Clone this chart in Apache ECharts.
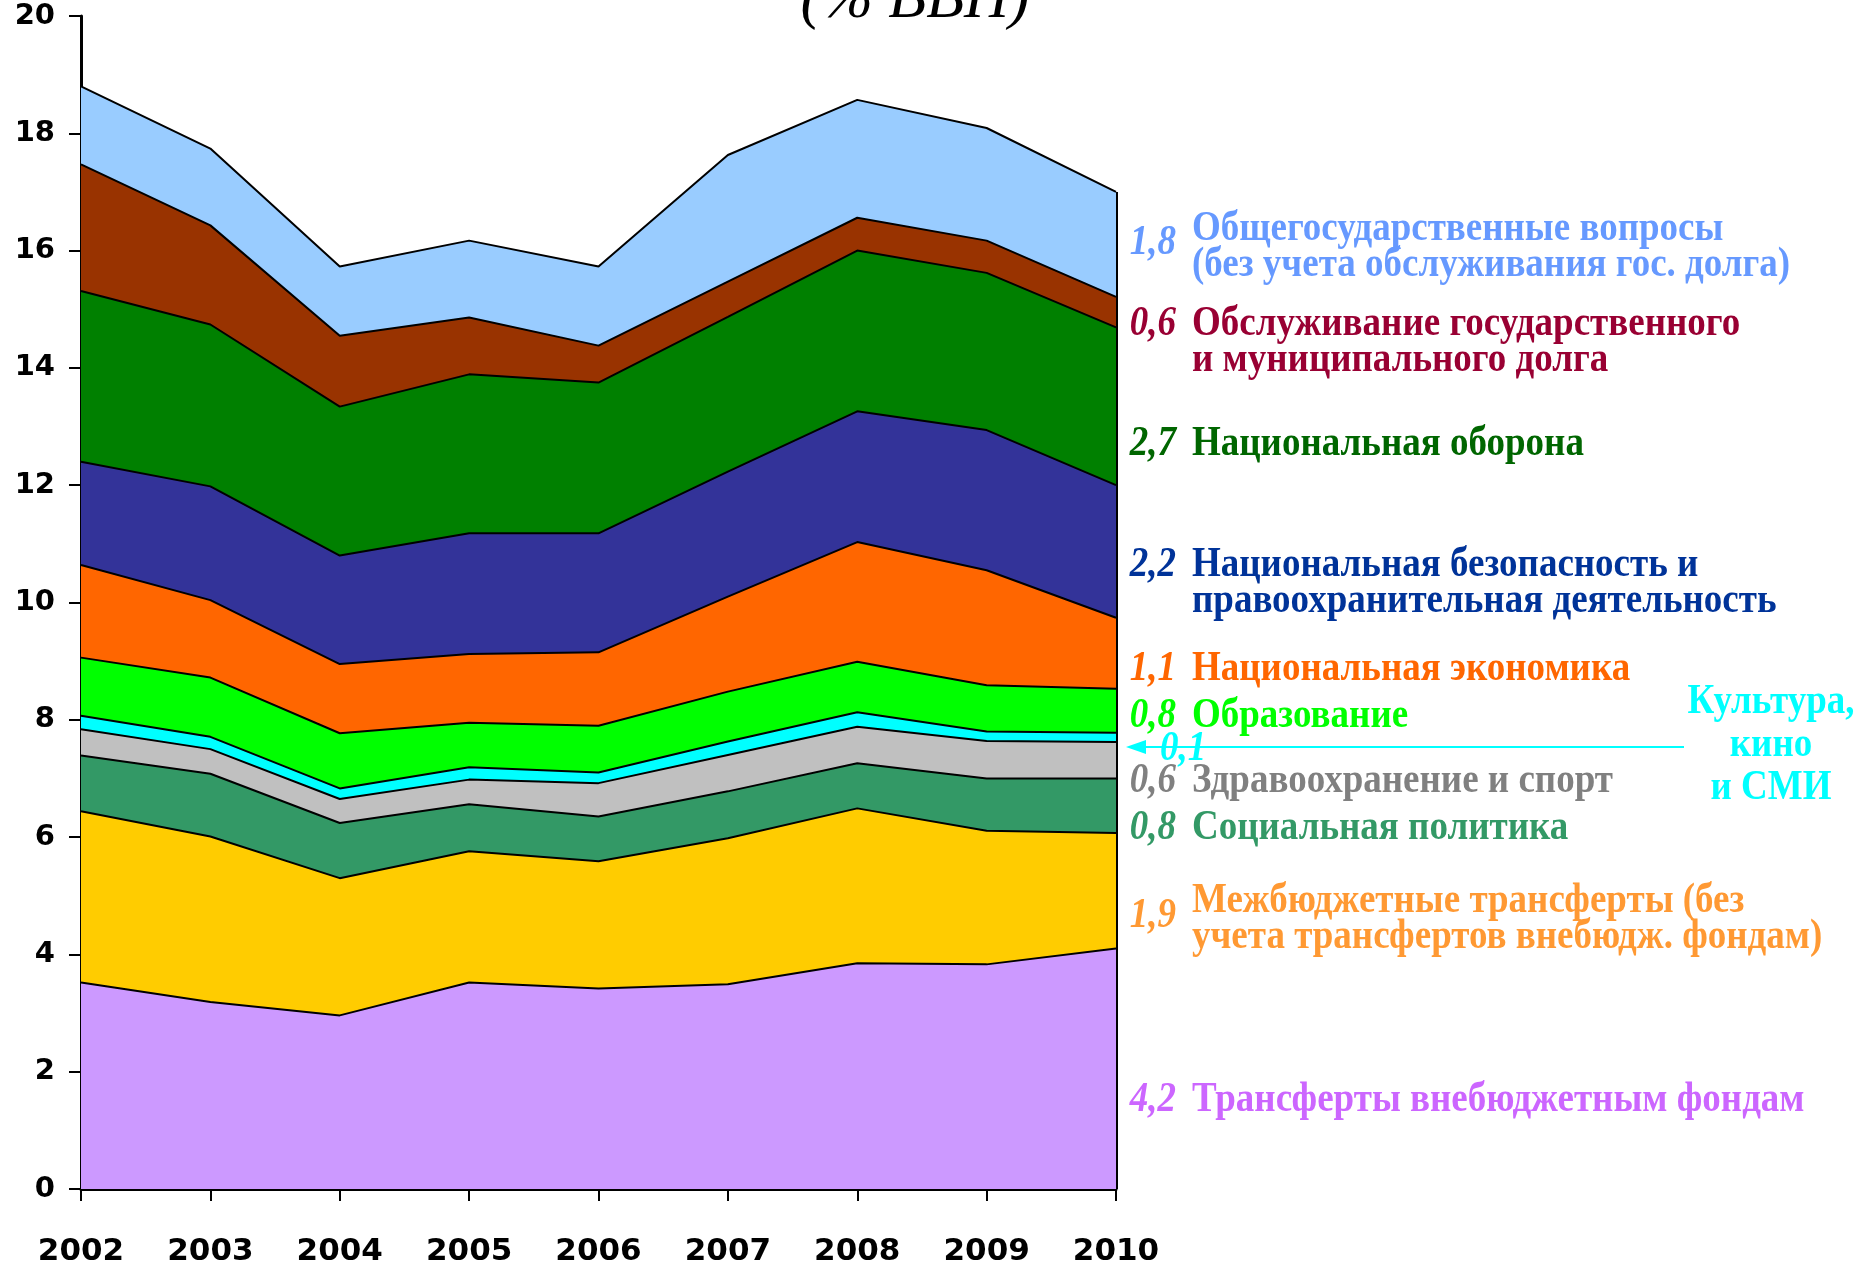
<!DOCTYPE html>
<html>
<head>
  <meta charset="UTF-8">
  <title>Расходы федерального бюджета (% ВВП)</title>
  <script src="https://cdn.jsdelivr.net/npm/echarts@6/dist/echarts.min.js"></script>
  <style>
    html, body { margin: 0; padding: 0; background: #fff; }
    #chart { width: 1862px; height: 1267px; }
  </style>
</head>
<body>
  <div id="chart"></div>
  <script type="text/javascript">
    // годы и значения (% ВВП), снизу вверх по стеку
    const years = ['2002', '2003', '2004', '2005', '2006', '2007', '2008', '2009', '2010'];
    const transfVnebud = [3.52, 3.19, 2.96, 3.52, 3.42, 3.49, 3.85, 3.83, 4.10];
    const mezhbud = [2.92, 2.82, 2.34, 2.24, 2.17, 2.49, 2.64, 2.28, 1.97];
    const socPolit = [0.95, 1.07, 0.94, 0.80, 0.76, 0.80, 0.77, 0.89, 0.93];
    const zdrav = [0.45, 0.42, 0.41, 0.42, 0.57, 0.62, 0.62, 0.64, 0.62];
    const kultura = [0.23, 0.21, 0.18, 0.21, 0.18, 0.23, 0.25, 0.16, 0.16];
    const obrazov = [0.99, 1.01, 0.94, 0.76, 0.80, 0.85, 0.86, 0.79, 0.75];
    const ekonom = [1.58, 1.32, 1.18, 1.17, 1.25, 1.62, 2.04, 1.96, 1.21];
    const bezopas = [1.76, 1.94, 1.85, 2.06, 2.03, 2.13, 2.23, 2.39, 2.26];
    const oborona = [2.91, 2.76, 2.54, 2.71, 2.57, 2.64, 2.74, 2.68, 2.69];
    const dolg = [2.16, 1.69, 1.21, 0.97, 0.63, 0.60, 0.56, 0.55, 0.52];
    const obscheGos = [1.33, 1.31, 1.18, 1.31, 1.35, 2.16, 2.01, 1.92, 1.79];

    // подписи справа (значения 2010 г.)
    const labelNums = ['1,8', '0,6', '2,7', '2,2', '1,1', '0,8', '0,6', '0,8', '1,9', '4,2'];
    const labelTexts = [
      'Общегосударственные вопросы\n(без учета обслуживания гос. долга)',
      'Обслуживание государственного\nи муниципального долга',
      'Национальная оборона',
      'Национальная безопасность и\nправоохранительная деятельность',
      'Национальная экономика',
      'Образование',
      'Здравоохранение и спорт',
      'Социальная политика',
      'Межбюджетные трансферты (без\nучета трансфертов внебюдж. фондам)',
      'Трансферты внебюджетным фондам'
    ];
    const kulturaNum = '0,1';
    const kulturaText = 'Культура,\nкино\nи СМИ';

    const seriesList = [
      { name: 'Трансферты внебюджетным фондам', data: transfVnebud, color: '#CC99FF' },
      { name: 'Межбюджетные трансферты', data: mezhbud, color: '#FFCC00' },
      { name: 'Социальная политика', data: socPolit, color: '#339966' },
      { name: 'Здравоохранение и спорт', data: zdrav, color: '#C0C0C0' },
      { name: 'Культура, кино и СМИ', data: kultura, color: '#00FFFF' },
      { name: 'Образование', data: obrazov, color: '#00FF00' },
      { name: 'Национальная экономика', data: ekonom, color: '#FF6600' },
      { name: 'Национальная безопасность', data: bezopas, color: '#333399' },
      { name: 'Национальная оборона', data: oborona, color: '#008000' },
      { name: 'Обслуживание долга', data: dolg, color: '#993300' },
      { name: 'Общегосударственные вопросы', data: obscheGos, color: '#99CCFF' }
    ];

    const last = years.length - 1;
    const total2010 = seriesList.reduce((s, v) => s + v.data[last], 0);

    const series = seriesList.map(s => ({
      name: s.name,
      type: 'line',
      stack: 'total',
      data: s.data,
      symbol: 'none',
      silent: true,
      lineStyle: { color: '#000', width: 2 },
      areaStyle: { color: s.color, opacity: 1 }
    }));
    // правый край области
    series.push({
      type: 'lines',
      coordinateSystem: 'cartesian2d',
      silent: true,
      lineStyle: { color: '#000', width: 3, opacity: 1 },
      data: [{ coords: [[years[last], 0], [years[last], total2010]] }]
    });

    const numColors = ['#6699FF', '#990033', '#006600', '#003399', '#FF6600', '#00FF00', '#808080', '#339966', '#FF9933', '#CC66FF'];
    const numY = [243, 324, 444, 565, 669, 716, 781, 828, 916, 1100];
    const textY = [247, 342, 444, 583, 669, 716, 781, 828, 919, 1100];
    const serif = '"Liberation Serif", "Times New Roman", serif';
    const sy = 1.15;

    const graphic = [];
    labelNums.forEach((n, i) => {
      graphic.push({
        type: 'text', x: 1176, y: numY[i], scaleY: sy, silent: true,
        style: { text: n, fill: numColors[i], font: 'italic bold 37px ' + serif, textAlign: 'right', textVerticalAlign: 'middle' }
      });
      graphic.push({
        type: 'text', x: 1192, y: textY[i], scaleY: sy, silent: true,
        style: { text: labelTexts[i], fill: numColors[i], font: 'bold 37px ' + serif, lineHeight: 36 / sy, textAlign: 'left', textVerticalAlign: 'middle' }
      });
    });
    // стрелка «Культура, кино и СМИ»
    graphic.push({
      type: 'line', silent: true,
      shape: { x1: 1684, y1: 747, x2: 1140, y2: 747 },
      style: { stroke: '#00FFFF', lineWidth: 2 }
    });
    graphic.push({
      type: 'polygon', silent: true,
      shape: { points: [[1126, 747], [1146, 740], [1146, 754]] },
      style: { fill: '#00FFFF' }
    });
    graphic.push({
      type: 'text', x: 1160, y: 749, scaleY: sy, silent: true,
      style: { text: kulturaNum, fill: '#00FFFF', font: 'italic bold 37px ' + serif, textAlign: 'left', textVerticalAlign: 'middle' }
    });
    graphic.push({
      type: 'text', x: 1771, y: 745, scaleY: sy, silent: true,
      style: { text: kulturaText, fill: '#00FFFF', font: 'bold 37px ' + serif, lineHeight: 43 / sy, textAlign: 'center', textVerticalAlign: 'middle' }
    });
    // заголовок (обрезан сверху)
    graphic.push({
      type: 'text', x: 915, y: 32, silent: true,
      style: { text: '(% ВВП)', fill: '#000', font: 'italic 62px ' + serif, textAlign: 'center', textVerticalAlign: 'bottom' }
    });

    const myChart = echarts.init(document.getElementById('chart'));
    const option = {
      animation: false,
      backgroundColor: '#fff',
      grid: { left: 81, right: 746, top: 16, bottom: 78, containLabel: false },
      xAxis: {
        type: 'category',
        boundaryGap: false,
        data: years,
        axisLine: { lineStyle: { color: '#000', width: 3 } },
        axisTick: { show: true, length: 12, lineStyle: { color: '#000', width: 2 } },
        axisLabel: { color: '#000', fontFamily: 'DejaVu Sans', fontWeight: 'bold', fontSize: 31, margin: 47 }
      },
      yAxis: {
        type: 'value',
        min: 0,
        max: 20,
        interval: 2,
        splitLine: { show: false },
        axisLine: { show: true, lineStyle: { color: '#000', width: 3 } },
        axisTick: { show: true, length: 12, lineStyle: { color: '#000', width: 2 } },
        axisLabel: { color: '#000', fontFamily: 'DejaVu Sans', fontWeight: 'bold', fontSize: 29, margin: 26 }
      },
      series: series,
      graphic: graphic
    };
    myChart.setOption(option);
  </script>
</body>
</html>
